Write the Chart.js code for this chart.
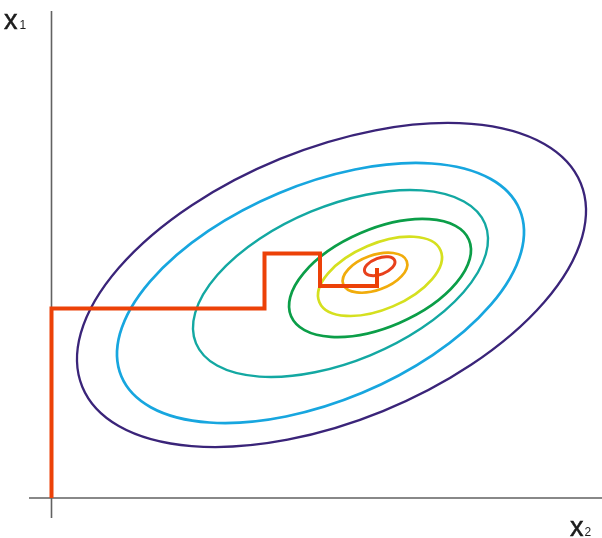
<!DOCTYPE html>
<html>
<head>
<meta charset="utf-8">
<script src="https://cdn.jsdelivr.net/npm/chart.js@4/dist/chart.umd.min.js"></script>
<style>
  html, body { margin: 0; padding: 0; background: #ffffff; }
  #c { display: block; }
</style>
</head>
<body>
<canvas id="c" width="602" height="538"></canvas>
<script>
// Level sets of the objective, outermost first: centre (x2, x1), semi-axes and tilt in degrees
const contourCx   = [280, 269, 289, 328.5, 328.5, 323.5, 328.2];
const contourCy   = [213, 205, 214.5, 220, 221.7, 225.3, 231.8];
const contourRx   = [269.2, 215.9, 156.4, 96.8, 65.9, 33.8, 16.05];
const contourRy   = [136.2, 108.2, 77.7, 48.9, 32.7, 17.4, 8.14];
const contourTilt = [22.2, 22.7, 22.5, 23.3, 23.1, 19.9, 20.6];

// Coordinate-descent iterates: one coordinate changes per step
const stepX2 = [0, 0, 213, 213, 268.5, 268.5, 325.5, 325.5];
const stepX1 = [0, 189.5, 189.5, 244.5, 244.5, 212, 212, 230];

// Axis names
const axisNames = ['x', 'x'];
const axisSubs  = ['1', '2'];

const contourColors = ['#3a2479', '#17a6df', '#13a8a2', '#0b9e48', '#d5e01f', '#f1ac0b', '#e8411c'];
const contourWidths = [2.3, 2.7, 2.4, 2.7, 2.7, 2.7, 3];

const contourPlugin = {
  id: 'contours',
  beforeDatasetsDraw(chart) {
    const ctx = chart.ctx;
    const xs = chart.scales.x, ys = chart.scales.y;

    // coordinate axes
    ctx.save();
    ctx.strokeStyle = '#626262';
    ctx.lineWidth = 1.6;
    ctx.beginPath();
    ctx.moveTo(xs.getPixelForValue(-22.5), ys.getPixelForValue(0));
    ctx.lineTo(xs.getPixelForValue(550.5), ys.getPixelForValue(0));
    ctx.moveTo(xs.getPixelForValue(0), ys.getPixelForValue(-20));
    ctx.lineTo(xs.getPixelForValue(0), ys.getPixelForValue(487));
    ctx.stroke();
    ctx.restore();

    // contour ellipses
    for (let i = 0; i < contourCx.length; i++) {
      const t = contourTilt[i] * Math.PI / 180;
      const cx = contourCx[i], cy = contourCy[i];
      const px = xs.getPixelForValue(cx), py = ys.getPixelForValue(cy);
      const ux = xs.getPixelForValue(cx + contourRx[i] * Math.cos(t)) - px;
      const uy = ys.getPixelForValue(cy + contourRx[i] * Math.sin(t)) - py;
      const vx = xs.getPixelForValue(cx - contourRy[i] * Math.sin(t)) - px;
      const vy = ys.getPixelForValue(cy + contourRy[i] * Math.cos(t)) - py;
      ctx.save();
      ctx.beginPath();
      ctx.save();
      ctx.transform(ux, uy, vx, vy, px, py);
      ctx.arc(0, 0, 1, 0, Math.PI * 2);
      ctx.restore();
      ctx.strokeStyle = contourColors[i];
      ctx.lineWidth = contourWidths[i];
      ctx.stroke();
      ctx.restore();
    }
  },
  afterDraw(chart) {
    const ctx = chart.ctx;
    ctx.save();
    ctx.fillStyle = '#1c1c1c';
    ctx.strokeStyle = '#1c1c1c';
    ctx.lineWidth = 0.5;
    ctx.textBaseline = 'alphabetic';
    ctx.textAlign = 'left';
    const big = '27px "Liberation Sans", Arial, sans-serif';
    const small = '12px "Liberation Sans", Arial, sans-serif';
    // x1 at the top of the vertical axis
    ctx.font = big;
    ctx.fillText(axisNames[0], 4, 28.5);
    ctx.strokeText(axisNames[0], 4, 28.5);
    ctx.font = small;
    ctx.fillText(axisSubs[0], 19.5, 28.5);
    // x2 at the right end of the horizontal axis
    ctx.font = big;
    ctx.fillText(axisNames[1], 570, 536);
    ctx.strokeText(axisNames[1], 570, 536);
    ctx.font = small;
    ctx.fillText(axisSubs[1], 584.5, 536);
    ctx.restore();
  }
};

new Chart(document.getElementById('c'), {
  type: 'scatter',
  data: {
    datasets: [{
      data: stepX2.map((x, i) => ({ x: x, y: stepX1[i] })),
      showLine: true,
      borderColor: '#ec4108',
      borderWidth: 4,
      borderJoinStyle: 'miter',
      borderCapStyle: 'butt',
      pointRadius: 0,
      tension: 0,
      fill: false
    }]
  },
  options: {
    responsive: false,
    animation: false,
    devicePixelRatio: 1,
    layout: { padding: 0 },
    scales: {
      x: { type: 'linear', min: -51.5, max: 550.5, display: false },
      y: { type: 'linear', min: -40, max: 498, display: false }
    },
    plugins: {
      legend: { display: false },
      tooltip: { enabled: false }
    }
  },
  plugins: [contourPlugin]
});
</script>
</body>
</html>
